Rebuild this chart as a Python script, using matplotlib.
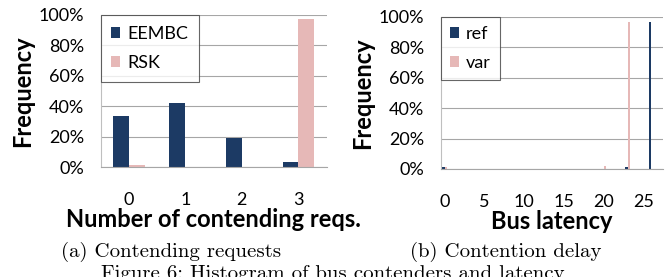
import matplotlib.pyplot as plt
import numpy as np

# left panel: number of contending requests
req_labels = ["0", "1", "2", "3"]
eembc = [33.5, 42.5, 19.5, 3.5]
rsk = [1.5, 0, 0, 97.5]

# right panel: bus latency (only non-zero bins listed)
n_lat = 28
ref_lat = [0, 23, 26]
ref_freq = [1.2, 1.5, 96.5]
var_lat = [0, 20, 23]
var_freq = [1.0, 2.0, 96.5]
lat_ticks = [0, 5, 10, 15, 20, 25]

navy = "#1C3A64"
pink = "#E6B8B7"
grid_col = "#A6A6A6"

plt.rcParams['font.family'] = ['Lato', 'DejaVu Sans']

fig = plt.figure(figsize=(6.72, 2.77), dpi=100)
ax1 = fig.add_axes([0.1496, 0.396, 0.3364, 0.550])
ax2 = fig.add_axes([0.656, 0.390, 0.331, 0.549])


def style(ax):
    ax.set_ylim(0, 100)
    ax.set_yticks(range(0, 101, 20))
    ax.set_yticklabels(["%d%%" % v for v in range(0, 101, 20)])
    ax.yaxis.grid(True, color=grid_col, linewidth=0.8)
    ax.set_axisbelow(True)
    for s in ["top", "right"]:
        ax.spines[s].set_visible(False)
    ax.spines["left"].set_color("#BFBFBF")
    ax.spines["bottom"].set_color(grid_col)
    ax.tick_params(length=0, labelsize=13)
    ax.tick_params(axis="x", pad=18)
    ax.tick_params(axis="y", pad=12)
    ax.set_ylabel("Frequency", fontsize=17, fontweight="bold", labelpad=3)


x = np.arange(len(req_labels))
w = 0.28
ax1.bar(x - w / 2, eembc, w, color=navy, label="EEMBC")
ax1.bar(x + w / 2, rsk, w, color=pink, label="RSK")
ax1.set_xlim(-0.5, 3.5)
ax1.set_xticks(x)
ax1.set_xticklabels(req_labels)
style(ax1)
ax1.set_xlabel("Number of contending reqs.", fontsize=17, fontweight="bold", labelpad=0)

bw = 0.33
ax2.bar(np.array(ref_lat) - bw / 2, ref_freq, bw, color=navy, label="ref")
ax2.bar(np.array(var_lat) + bw / 2, var_freq, bw, color=pink, label="var")
ax2.set_xlim(-0.5, n_lat - 0.5)
ax2.set_xticks(lat_ticks)
style(ax2)
ax2.set_xlabel("Bus latency", fontsize=17, fontweight="bold", labelpad=0)

for ax, bpad in ((ax1, 0.6), (ax2, 0.5)):
    leg = ax.legend(loc="upper left", bbox_to_anchor=(0, 1), borderaxespad=0,
                    fontsize=13, frameon=True, fancybox=False,
                    handlelength=0.5, handleheight=0.5, handletextpad=0.4,
                    borderpad=bpad, labelspacing=0.72)
    leg.get_frame().set_edgecolor("#404040")
    leg.get_frame().set_linewidth(0.8)

fig.text(0.255, 0.09, "(a) Contending requests", family="cmr10", fontsize=15,
         ha="center", va="center")
fig.text(0.752, 0.09, "(b) Contention delay", family="cmr10", fontsize=15,
         ha="center", va="center")
fig.text(0.496, 0.045, "Figure 6: Histogram of bus contenders and latency",
         family="cmr10", fontsize=15, ha="center", va="top")

plt.savefig("out.png", dpi=100)
